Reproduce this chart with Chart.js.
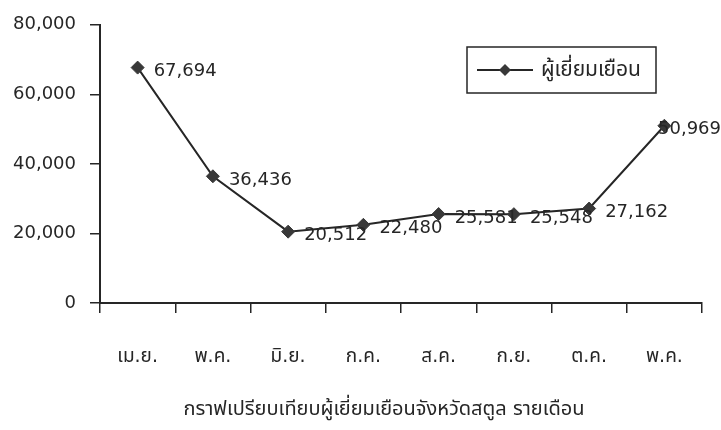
<!DOCTYPE html>
<html>
<head>
<meta charset="utf-8">
<script src="https://cdn.jsdelivr.net/npm/chart.js@4/dist/chart.umd.min.js"></script>
<style>
  html, body { margin: 0; padding: 0; background: #ffffff; }
  #wrap { width: 721px; height: 430px; position: relative; }
</style>
</head>
<body>
<div id="wrap"><canvas id="c" width="721" height="430"></canvas></div>
<script>
const categories = ['เม.ย.', 'พ.ค.', 'มิ.ย.', 'ก.ค.', 'ส.ค.', 'ก.ย.', 'ต.ค.', 'พ.ค.'];
const visitors = [67694, 36436, 20512, 22480, 25581, 25548, 27162, 50969];
const seriesName = 'ผู้เยี่ยมเยือน';
const chartTitle = 'กราฟเปรียบเทียบผู้เยี่ยมเยือนจังหวัดสตูล รายเดือน';
const yTicks = [0, 20000, 40000, 60000, 80000];

const FONT = "'DejaVu Sans', 'Noto Sans Thai', 'Noto Sans', sans-serif";
const INK = '#262626';

const valueLabels = {
  id: 'valueLabels',
  afterDatasetsDraw(chart) {
    const ctx = chart.ctx;
    const meta = chart.getDatasetMeta(0);
    const ds = chart.data.datasets[0];
    ctx.save();
    ctx.font = '18px ' + FONT;
    ctx.fillStyle = INK;
    ctx.textBaseline = 'middle';
    ctx.textAlign = 'left';
    meta.data.forEach((pt, i) => {
      const txt = ds.data[i].toLocaleString('en-US');
      const w = ctx.measureText(txt).width;
      let x = pt.x + 16;
      if (x + w > chart.width) x = chart.width - w;
      ctx.fillText(txt, x, pt.y + 4);
    });
    ctx.restore();
  }
};

const boxLegend = {
  id: 'boxLegend',
  afterDraw(chart) {
    const ctx = chart.ctx;
    const ds = chart.data.datasets[0];
    const x0 = 467, y0 = 47, w = 189, h = 46;
    ctx.save();
    ctx.strokeStyle = INK;
    ctx.lineWidth = 1.5;
    ctx.strokeRect(x0, y0, w, h);
    const cy = y0 + h / 2;
    ctx.beginPath();
    ctx.moveTo(x0 + 10, cy);
    ctx.lineTo(x0 + 66, cy);
    ctx.strokeStyle = ds.borderColor;
    ctx.lineWidth = ds.borderWidth;
    ctx.stroke();
    const r = 6, cx = x0 + 38;
    ctx.beginPath();
    ctx.moveTo(cx, cy - r); ctx.lineTo(cx + r, cy); ctx.lineTo(cx, cy + r); ctx.lineTo(cx - r, cy); ctx.closePath();
    ctx.fillStyle = ds.pointBackgroundColor;
    ctx.fill();
    ctx.font = '21px ' + FONT;
    ctx.fillStyle = INK;
    ctx.textBaseline = 'middle';
    ctx.textAlign = 'left';
    ctx.fillText(ds.label, x0 + 74, cy + 1);
    // caption below the chart
    ctx.font = '20px ' + FONT;
    ctx.textAlign = 'center';
    ctx.fillText(chartTitle, 384, 410);
    ctx.restore();
  }
};

new Chart(document.getElementById('c'), {
  type: 'line',
  data: {
    labels: categories,
    datasets: [{
      label: seriesName,
      data: visitors,
      borderColor: INK,
      borderWidth: 2,
      pointStyle: 'rectRot',
      pointRadius: 6.5,
      pointBackgroundColor: '#383838',
      pointBorderColor: '#383838',
      pointBorderWidth: 1,
      tension: 0,
      fill: false
    }]
  },
  options: {
    responsive: false,
    animation: false,
    devicePixelRatio: 1,
    layout: { padding: { top: 21, right: 19, left: 0, bottom: 0 } },
    plugins: { legend: { display: false }, tooltip: { enabled: false }, title: { display: false } },
    scales: {
      x: {
        offset: true,
        grid: { offset: true, drawOnChartArea: false, drawTicks: true, tickLength: 10, color: INK, lineWidth: 1.5 },
        border: { display: true, color: INK, width: 2 },
        ticks: { color: INK, font: { family: FONT, size: 19 }, padding: 33, maxRotation: 0, autoSkip: false },
        afterFit(s) { s.height = 127; }
      },
      y: {
        min: 0, max: 80000,
        afterBuildTicks(s) { s.ticks = yTicks.map(v => ({ value: v })); },
        grid: { drawOnChartArea: false, drawTicks: true, tickLength: 10, color: INK, lineWidth: 1.5 },
        border: { display: true, color: INK, width: 2 },
        ticks: { color: INK, font: { family: FONT, size: 18 }, padding: 14, callback: v => v.toLocaleString('en-US') },
        afterFit(s) { s.width = 100; }
      }
    }
  },
  plugins: [valueLabels, boxLegend]
});
</script>
</body>
</html>
